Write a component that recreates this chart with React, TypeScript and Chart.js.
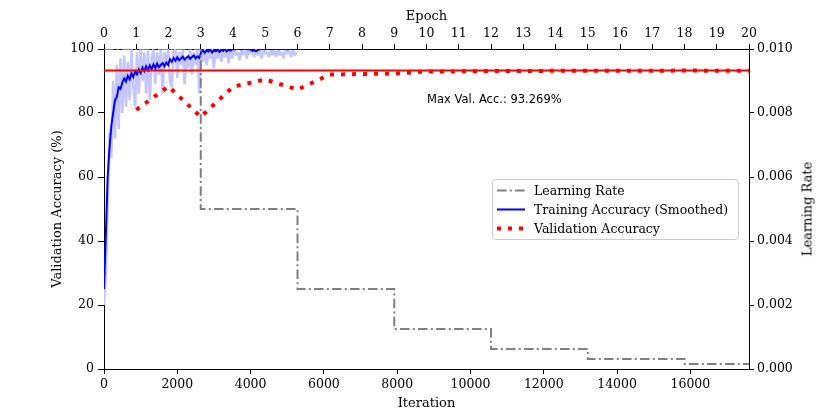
import React, { useEffect, useRef } from "react";
import Chart from "chart.js/auto";

// run layout: 20 epochs, ~880 iterations each, training logged every 50 iterations
const ITERS_PER_EPOCH = 880;
const NUM_EPOCHS = 20;
const TRAIN_LOG_EVERY = 50;

// tick labels on the iteration axis
const iterationTicks = [0, 2000, 4000, 6000, 8000, 10000, 12000, 14000, 16000];

// training accuracy (%) per logged batch, smoothed
const trainSmoothed = [
    25, 42, 60, 69, 76, 80, 84, 85, 88, 87.5,
    89.5, 90.8, 89.8, 91.6, 90.5, 92.4, 91.2, 93.0, 92.1, 93.6,
    92.5, 94.2, 93.1, 94.6, 93.4, 94.9, 93.8, 95.2, 94.0, 95.4,
    94.3, 95.0, 95.6, 94.6, 95.8, 95.0, 96.8, 96.0, 97.2, 96.3,
    97.4, 96.5, 97.0, 97.6, 96.7, 97.3, 97.8, 96.9, 97.5, 98.0,
    97.1, 97.7, 97.2, 99.0, 99.6, 98.8, 99.5, 99.2, 99.8, 98.9,
    99.6, 99.3, 99.9, 99.1, 99.7, 99.4, 100, 99.2, 99.8, 99.5,
    99.9, 100, 99.9, 100, 100, 99.9, 100, 100, 99.9, 100,
    99.8, 99.4, 99.6, 99.3, 99.7, 99.9, 100, 100, 99.9, 100,
    100, 100, 99.9, 100, 100, 100, 99.9, 100, 100, 100,
    99.9, 100, 100, 100, 100, 100,
];

// training accuracy (%) per logged batch, raw
const trainRaw = [
    20, 30, 52, 74, 66, 90, 72, 95, 75, 97,
    80, 98, 82, 96, 84, 100, 88, 82, 99, 86,
    100, 90, 99, 86, 100, 84, 97, 100, 89, 99,
    92, 100, 86, 99, 95, 100, 90, 88, 99, 100,
    91, 99, 95, 100, 89, 97, 94, 100, 92, 99,
    95, 100, 86, 99.5, 96, 100, 95, 99, 97, 100,
    94, 99.5, 97, 100, 96, 99, 97.5, 100, 95.5, 99.5,
    97, 100, 98, 99, 96.5, 100, 98, 99.5, 97, 100,
    98.5, 99, 97.5, 100, 98, 99.5, 97, 100, 98.5, 99,
    97.5, 100, 98, 99.5, 97.5, 100, 98, 99, 97, 100,
    98.5, 99.5, 97.5, 100, 98, 99,
];

// validation accuracy (%) after each epoch
const valEpochs = [1, 2, 3, 4, 5, 6, 7, 8, 9, 10, 11, 12, 13, 14, 15, 16, 17, 18, 19, 20];
const valAccuracy = [
    81.0, 88.3, 78.8, 88.2, 90.5, 87.3, 92.0, 92.2, 92.3, 93.0,
    93.0, 93.1, 93.1, 93.2, 93.2, 93.2, 93.2, 93.269, 93.2, 93.2,
];
const MAX_VAL_ACC = 93.269;

// learning rate schedule: value held from each epoch onwards
const lrEpochs = [0, 3, 6, 9, 12, 15, 18, 20];
const lrValues = [0.01, 0.005, 0.0025, 0.00125, 0.000625, 0.0003125, 0.00015625, 0.00015625];

const SERIF = "'DejaVu Serif', 'Liberation Serif', serif";
const SANS = "'DejaVu Sans', 'Liberation Sans', sans-serif";

const LR_DASH = [9.6, 3.2, 2, 3.2];
const VAL_DASH = [4, 7];

export default function App() {
    const canvasRef = useRef<HTMLCanvasElement | null>(null);
    const chartRef = useRef<Chart | null>(null);

    useEffect(() => {
        document.body.style.margin = "0";
        if (!canvasRef.current) return;
        const ctx = canvasRef.current.getContext("2d");
        if (!ctx) return;

        if (chartRef.current) {
            chartRef.current.destroy();
        }

        Chart.defaults.font.family = SERIF;
        Chart.defaults.color = "#000";

        const axisCommon = {
            z: 1,
            border: { display: true, color: "#000", width: 1 },
            grid: { drawOnChartArea: false, drawTicks: true, tickLength: 5, tickColor: "#000", color: "#000" },
        };

        chartRef.current = new Chart(ctx, {
            type: "line",
            data: {
                datasets: [
                    {
                        label: "Validation Accuracy",
                        data: valEpochs.map((e, i) => ({ x: e, y: valAccuracy[i] })),
                        xAxisID: "x2",
                        yAxisID: "y",
                        borderColor: "#ff0000",
                        borderWidth: 4,
                        borderDash: VAL_DASH,
                        pointRadius: 0,
                        fill: false,
                        order: 0,
                    },
                    {
                        label: "Max Val. Acc.",
                        data: [
                            { x: 0, y: MAX_VAL_ACC },
                            { x: NUM_EPOCHS, y: MAX_VAL_ACC },
                        ],
                        xAxisID: "x2",
                        yAxisID: "y",
                        borderColor: "#ff0000",
                        borderWidth: 2,
                        pointRadius: 0,
                        fill: false,
                        order: 1,
                    },
                    {
                        label: "Learning Rate",
                        data: lrEpochs.map((e, i) => ({ x: e, y: lrValues[i] })),
                        xAxisID: "x2",
                        yAxisID: "y1",
                        stepped: "before",
                        borderColor: "#808080",
                        borderWidth: 2,
                        borderDash: LR_DASH,
                        pointRadius: 0,
                        fill: false,
                        clip: 0,
                        order: 2,
                    },
                    {
                        label: "Training Accuracy (Smoothed)",
                        data: trainSmoothed.map((v, i) => ({ x: i * TRAIN_LOG_EVERY, y: v })),
                        xAxisID: "x",
                        yAxisID: "y",
                        borderColor: "#0000ff",
                        borderWidth: 2,
                        pointRadius: 0,
                        fill: false,
                        clip: 0,
                        order: 3,
                    },
                    {
                        label: "Training Accuracy",
                        data: trainRaw.map((v, i) => ({ x: i * TRAIN_LOG_EVERY, y: v })),
                        xAxisID: "x",
                        yAxisID: "y",
                        borderColor: "#c6c6ff",
                        borderWidth: 2.6,
                        borderJoinStyle: "bevel",
                        pointRadius: 0,
                        fill: false,
                        clip: 0,
                        order: 4,
                    },
                ],
            },
            options: {
                animation: false,
                responsive: false,
                events: [],
                layout: { padding: 0 },
                plugins: {
                    legend: { display: false },
                    tooltip: { enabled: false },
                },
                scales: {
                    x: {
                        ...axisCommon,
                        type: "linear",
                        position: "bottom",
                        min: 0,
                        max: NUM_EPOCHS * ITERS_PER_EPOCH,
                        afterBuildTicks: (s: any) => {
                            s.ticks = iterationTicks.map((v) => ({ value: v }));
                        },
                        ticks: {
                            autoSkip: false,
                            maxRotation: 0,
                            padding: 3,
                            color: "#000",
                            font: { size: 12.5 },
                            callback: (v: any) => String(v),
                        },
                        title: {
                            display: true,
                            text: "Iteration",
                            color: "#000",
                            font: { size: 13 },
                            padding: { top: 0, bottom: 4 },
                        },
                        afterFit: (s: any) => {
                            s.height = 46;
                        },
                    },
                    x2: {
                        ...axisCommon,
                        type: "linear",
                        position: "top",
                        min: 0,
                        max: NUM_EPOCHS,
                        ticks: {
                            stepSize: 1,
                            autoSkip: false,
                            maxRotation: 0,
                            padding: 3,
                            color: "#000",
                            font: { size: 12.5 },
                        },
                        title: {
                            display: true,
                            text: "Epoch",
                            color: "#000",
                            font: { size: 13 },
                            padding: { top: 9, bottom: 0 },
                        },
                        afterFit: (s: any) => {
                            s.height = 49;
                        },
                    },
                    y: {
                        ...axisCommon,
                        type: "linear",
                        position: "left",
                        min: 0,
                        max: 100,
                        grid: { ...axisCommon.grid, tickLength: 6 },
                        ticks: {
                            stepSize: 20,
                            padding: 4,
                            color: "#000",
                            font: { size: 12.5 },
                        },
                        title: {
                            display: true,
                            text: "Validation Accuracy (%)",
                            color: "#000",
                            font: { size: 13 },
                            padding: { top: 50, bottom: 0 },
                        },
                        afterFit: (s: any) => {
                            s.width = 104;
                        },
                    },
                    y1: {
                        ...axisCommon,
                        type: "linear",
                        position: "right",
                        min: 0,
                        max: 0.01,
                        ticks: {
                            stepSize: 0.002,
                            padding: 3,
                            color: "#000",
                            font: { size: 12.5 },
                            callback: (v: any) => Number(v).toFixed(3),
                        },
                        title: { display: false },
                        afterFit: (s: any) => {
                            s.width = 81;
                        },
                    },
                },
            },
        });

        return () => {
            chartRef.current?.destroy();
            chartRef.current = null;
        };
    }, []);

    const legendRows = [
        { label: "Learning Rate", color: "#808080", width: 2, dash: LR_DASH },
        { label: "Training Accuracy (Smoothed)", color: "#0000ff", width: 2, dash: [] as number[] },
        { label: "Validation Accuracy", color: "#ff0000", width: 4, dash: VAL_DASH },
    ];

    return (
        <div style={{ position: "relative", width: 830, height: 415, background: "#fff" }}>
            <canvas ref={canvasRef} width={830} height={415} style={{ position: "absolute", left: 0, top: 0 }}></canvas>

            {/* right axis title, reads bottom to top */}
            <div
                style={{
                    position: "absolute",
                    left: 807,
                    top: 209,
                    transform: "translate(-50%, -50%) rotate(-90deg)",
                    whiteSpace: "nowrap",
                    fontFamily: SERIF,
                    fontSize: 13,
                    lineHeight: "15px",
                    color: "#000",
                }}
            >
                Learning Rate
            </div>

            {/* max accuracy note */}
            <div
                style={{
                    position: "absolute",
                    left: 427,
                    top: 92,
                    whiteSpace: "nowrap",
                    fontFamily: SANS,
                    fontSize: 11.5,
                    lineHeight: "14px",
                    color: "#000",
                }}
            >
                Max Val. Acc.: {MAX_VAL_ACC.toFixed(3)}%
            </div>

            {/* legend */}
            <div
                style={{
                    position: "absolute",
                    left: 492,
                    top: 179,
                    width: 247,
                    height: 61,
                    border: "1px solid #cccccc",
                    borderRadius: 4,
                    background: "rgba(255,255,255,0.8)",
                    boxSizing: "border-box",
                }}
            >
                {legendRows.map((r, i) => (
                    <div
                        key={r.label}
                        style={{
                            position: "absolute",
                            left: 0,
                            top: 1 + i * 19,
                            height: 19,
                            width: "100%",
                        }}
                    >
                        <svg width={30} height={19} style={{ position: "absolute", left: 4, top: 0 }}>
                            <line
                                x1={0}
                                y1={9.5}
                                x2={28}
                                y2={9.5}
                                stroke={r.color}
                                strokeWidth={r.width}
                                strokeDasharray={r.dash.length ? r.dash.join(" ") : undefined}
                            />
                        </svg>
                        <span
                            style={{
                                position: "absolute",
                                left: 41,
                                top: 0,
                                lineHeight: "19px",
                                whiteSpace: "nowrap",
                                fontFamily: SERIF,
                                fontSize: 12.5,
                                color: "#000",
                            }}
                        >
                            {r.label}
                        </span>
                    </div>
                ))}
            </div>
        </div>
    );
}
